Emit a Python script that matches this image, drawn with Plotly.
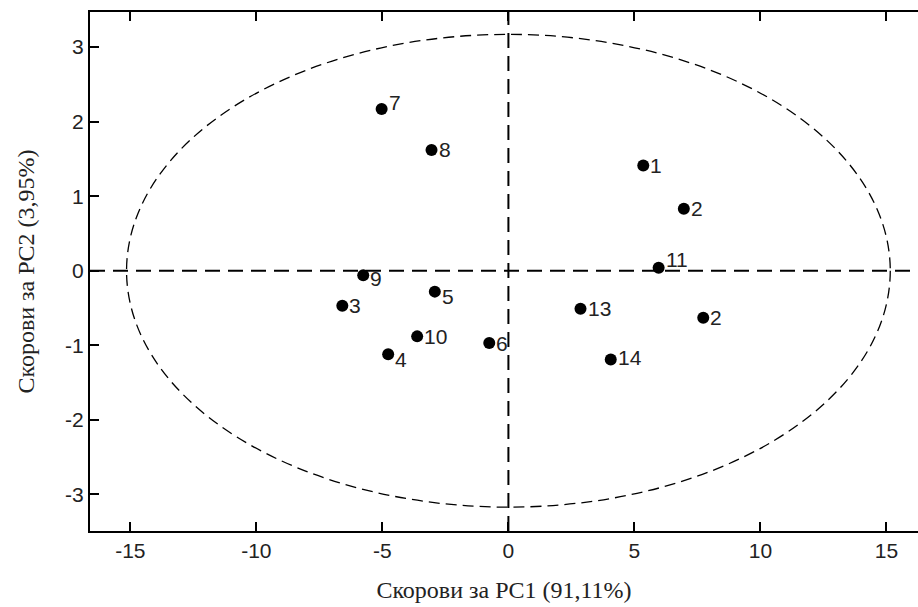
import plotly.graph_objects as go

# PCA scores of the samples
labels = ["1", "2", "3", "4", "5", "6", "7", "8", "9", "10", "11", "2", "13", "14"]
pc1 = [5.35, 6.96, -6.59, -4.77, -2.92, -0.76, -5.03, -3.05, -5.76, -3.62, 5.96, 7.73, 2.86, 4.06]
pc2 = [1.41, 0.83, -0.47, -1.12, -0.28, -0.97, 2.17, 1.62, -0.06, -0.88, 0.04, -0.63, -0.51, -1.19]

x_ticks = [-15, -10, -5, 0, 5, 10, 15]
y_ticks = [-3, -2, -1, 0, 1, 2, 3]

# Hotelling T2 ellipse semi-axes
ell_a = 15.15
ell_b = 3.17

# vertical nudges for the point labels (px)
label_dy = [0, 0, 0, -5, -5, 0, 6, 0, -3, 0, 8, 0, 0, 2]

sans = "Liberation Sans Narrow, Arial Narrow, Liberation Sans, sans-serif"
serif = "Liberation Serif, Times New Roman, serif"

fig = go.Figure()

fig.add_trace(go.Scatter(
    x=pc1, y=pc2, mode="markers",
    marker=dict(color="black", size=12),
    hoverinfo="skip", showlegend=False,
))

for xv, yv, t, dy in zip(pc1, pc2, labels, label_dy):
    fig.add_annotation(
        x=xv, y=yv, text=t, showarrow=False,
        xanchor="left", yanchor="middle", xshift=5, yshift=dy,
        font=dict(family=sans, size=21, color="#222"),
    )

# confidence ellipse
fig.add_shape(type="circle", xref="x", yref="y",
              x0=-ell_a, x1=ell_a, y0=-ell_b, y1=ell_b,
              line=dict(color="black", width=1.3, dash="11px,6px"))
# zero lines
fig.add_shape(type="line", xref="paper", yref="y", x0=0, x1=1, y0=0, y1=0,
              line=dict(color="black", width=2, dash="15px,8px"))
fig.add_shape(type="line", xref="x", yref="paper", x0=0, x1=0, y0=0, y1=1,
              line=dict(color="black", width=2, dash="15px,8px"))

tick_font = dict(family=sans, size=21, color="#222")
title_font = dict(family=serif, size=24, color="#222")

fig.update_layout(
    width=918, height=607,
    margin=dict(l=90, r=0, t=12, b=76),
    paper_bgcolor="white", plot_bgcolor="white",
    xaxis=dict(
        range=[-16.6, 16.25], tickvals=x_ticks, ticktext=[str(v) for v in x_ticks],
        showgrid=False, zeroline=False,
        showline=True, linecolor="black", linewidth=2, mirror="ticks",
        ticks="inside", ticklen=9, tickcolor="black", tickwidth=2,
        tickfont=tick_font,
        title=dict(text="Скорови за PC1 (91,11%)", font=title_font, standoff=20),
    ),
    yaxis=dict(
        range=[-3.49, 3.47], tickvals=y_ticks, ticktext=[str(v) for v in y_ticks],
        showgrid=False, zeroline=False,
        showline=True, linecolor="black", linewidth=2, mirror=False,
        ticks="inside", ticklen=9, tickcolor="black", tickwidth=2,
        tickfont=tick_font,
        title=dict(text="Скорови за PC2 (3,95%)", font=title_font, standoff=24),
    ),
)

fig.write_html("out.html")
